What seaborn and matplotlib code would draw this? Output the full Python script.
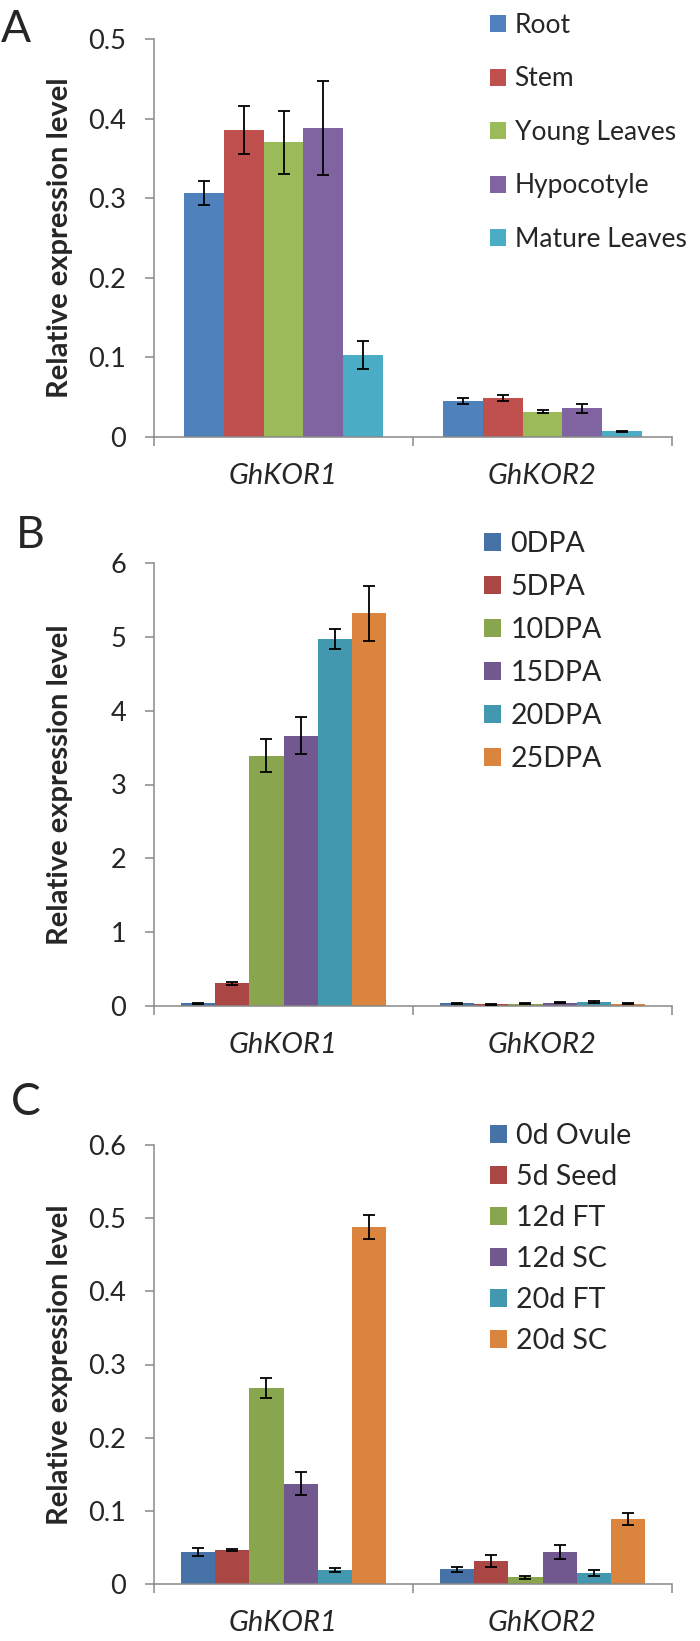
import numpy as np
import pandas as pd
import matplotlib
matplotlib.use("Agg")
import matplotlib.pyplot as plt
import seaborn as sns

# ---------------- data ----------------
genes = ["GhKOR1", "GhKOR2"]

a_samples = ["Root", "Stem", "Young Leaves", "Hypocotyle", "Mature Leaves"]
a_kor1 = [0.306, 0.386, 0.370, 0.388, 0.103]
a_kor1_err = [0.015, 0.030, 0.040, 0.059, 0.017]
a_kor2 = [0.045, 0.049, 0.032, 0.036, 0.007]
a_kor2_err = [0.0035, 0.0033, 0.002, 0.0056, 0.001]
a_colors = ["#4F81BD", "#C0504D", "#9BBB59", "#8064A2", "#4BACC6"]
a_ticks = [0, 0.1, 0.2, 0.3, 0.4, 0.5]
a_ticklabels = ["0", "0.1", "0.2", "0.3", "0.4", "0.5"]

b_samples = ["0DPA", "5DPA", "10DPA", "15DPA", "20DPA", "25DPA"]
b_kor1 = [0.037, 0.31, 3.39, 3.66, 4.97, 5.32]
b_kor1_err = [0.006, 0.02, 0.227, 0.248, 0.13, 0.37]
b_kor2 = [0.036, 0.023, 0.028, 0.045, 0.054, 0.032]
b_kor2_err = [0.006, 0.005, 0.006, 0.007, 0.007, 0.006]
b_ticks = [0, 1, 2, 3, 4, 5, 6]
b_ticklabels = ["0", "1", "2", "3", "4", "5", "6"]

c_samples = ["0d Ovule", "5d Seed", "12d FT", "12d SC", "20d FT", "20d SC"]
c_kor1 = [0.044, 0.047, 0.268, 0.137, 0.019, 0.488]
c_kor1_err = [0.0054, 0.0015, 0.0137, 0.016, 0.0024, 0.017]
c_kor2 = [0.020, 0.031, 0.009, 0.044, 0.015, 0.089]
c_kor2_err = [0.0038, 0.0083, 0.0026, 0.0092, 0.0047, 0.0083]
bc_colors = ["#4672A8", "#AA4643", "#89A54E", "#71588F", "#4198AF", "#DB843D"]
c_ticks = [0, 0.1, 0.2, 0.3, 0.4, 0.5, 0.6]
c_ticklabels = ["0", "0.1", "0.2", "0.3", "0.4", "0.5", "0.6"]

ylabel = "Relative expression level"

# ---------------- style ----------------
sns.set_style("white")
plt.rcParams["font.family"] = ["Lato", "DejaVu Sans"]

W, H = 700, 1641
fig = plt.figure(figsize=(W / 100, H / 100), dpi=100)

GRAY = "#898989"
TICK_FS = 19.5
XTICK_FS = 21


def make_df(samples, k1, k1e, k2, k2e):
    rows = []
    for i, s in enumerate(samples):
        rows.append((genes[0], s, k1[i], k1e[i]))
        rows.append((genes[1], s, k2[i], k2e[i]))
    return pd.DataFrame(rows, columns=["gene", "sample", "value", "err"])


def panel(top_px, bottom_px, df, samples, colors, width, ticks, ticklabels,
          leg_x, leg_top, leg_spacing, leg_fs, letter, letter_xy):
    ax = fig.add_axes([154 / W, 1 - bottom_px / H, 518 / W, (bottom_px - top_px) / H])
    sns.barplot(data=df, x="gene", y="value", hue="sample", order=genes,
                hue_order=samples, palette=colors, width=width, saturation=1,
                errorbar=None, linewidth=0, ax=ax)
    # error bars from bar geometry
    for cont, s in zip(ax.containers, samples):
        sub = df[df["sample"] == s].set_index("gene").loc[genes]
        xs = [b.get_x() + b.get_width() / 2 for b in cont]
        ys = [b.get_height() for b in cont]
        ax.errorbar(xs, ys, yerr=sub["err"].values, fmt="none", ecolor="black",
                    elinewidth=1.3, capsize=4, capthick=1.3, zorder=5)

    ax.set_xlim(-0.5, 1.5)
    ax.set_ylim(ticks[0], ticks[-1])
    ax.set_yticks(ticks)
    ax.set_yticklabels(ticklabels)
    ax.set_xticks([0, 1])
    ax.set_xticklabels(genes, fontstyle="italic")
    ax.set_xticks([-0.5, 0.5, 1.5], minor=True)
    ax.set_xlabel("")
    for sp in ["top", "right"]:
        ax.spines[sp].set_visible(False)
    for sp in ["left", "bottom"]:
        ax.spines[sp].set_color(GRAY)
        ax.spines[sp].set_linewidth(1.1)
    ax.tick_params(axis="y", which="major", direction="out", length=6.5,
                   width=1.1, color=GRAY, pad=13.5, labelsize=TICK_FS, left=True)
    ax.tick_params(axis="x", which="major", length=0, pad=19, labelsize=XTICK_FS)
    ax.tick_params(axis="x", which="minor", direction="out", length=6.5,
                   width=1.1, color=GRAY, bottom=True)
    ax.set_ylabel(ylabel, fontsize=21, fontweight="bold")
    ax.yaxis.set_label_coords(-(154 - 73) / 518, 0.5)

    old = ax.get_legend()
    handles = old.legend_handles
    labels = [t.get_text() for t in old.get_texts()]
    old.remove()
    ax.legend(handles, labels, loc="upper left",
              bbox_to_anchor=(leg_x / W, 1 - leg_top / H),
              bbox_transform=fig.transFigure, frameon=False, fontsize=leg_fs,
              handlelength=0.6, handleheight=0.6, handletextpad=0.33,
              labelspacing=leg_spacing, borderpad=0, borderaxespad=0)
    fig.text(letter_xy[0] / W, 1 - letter_xy[1] / H, letter, fontsize=32,
             ha="left", va="baseline")
    return ax


dfa = make_df(a_samples, a_kor1, a_kor1_err, a_kor2, a_kor2_err)
dfb = make_df(b_samples, b_kor1, b_kor1_err, b_kor2, b_kor2_err)
dfc = make_df(c_samples, c_kor1, c_kor1_err, c_kor2, c_kor2_err)

panel(39, 437, dfa, a_samples, a_colors, 0.77, a_ticks, a_ticklabels,
      490, 13, 1.08, 19, "A", (1, 42))
panel(563, 1006, dfb, b_samples, bc_colors, 0.79, b_ticks, b_ticklabels,
      484, 531, 0.6, 20.5, "B", (16, 548))
panel(1145, 1584, dfc, c_samples, bc_colors, 0.79, c_ticks, c_ticklabels,
      490, 1123, 0.53, 20.5, "C", (11, 1115))

fig.savefig("out.png", dpi=100)
